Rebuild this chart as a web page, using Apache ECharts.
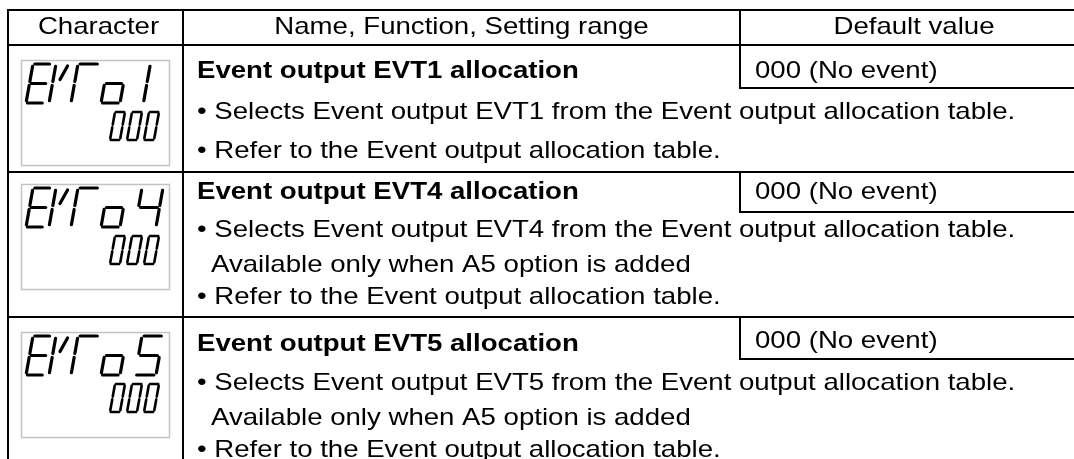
<!DOCTYPE html>
<html><head><meta charset="utf-8">
<script src="https://cdn.jsdelivr.net/npm/echarts@6/dist/echarts.min.js"></script>
<style>html,body{margin:0;padding:0;background:#fff}#chart{width:1074px;height:459px}</style>
</head><body><div id="chart"></div>
<script>
// ---- table content ----
const headers = ['Character', 'Name, Function, Setting range', 'Default value'];
const displayCodes = ['EVTo1', 'EVTo4', 'EVTo5'];
const displayValues = ['000', '000', '000'];
const names = ['Event output EVT1 allocation', 'Event output EVT4 allocation', 'Event output EVT5 allocation'];
const defaults = ['000 (No event)', '000 (No event)', '000 (No event)'];
const descriptions = [
  ['• Selects Event output EVT1 from the Event output allocation table.',
   '• Refer to the Event output allocation table.'],
  ['• Selects Event output EVT4 from the Event output allocation table.',
   'Available only when A5 option is added',
   '• Refer to the Event output allocation table.'],
  ['• Selects Event output EVT5 from the Event output allocation table.',
   'Available only when A5 option is added',
   '• Refer to the Event output allocation table.']
];

// ---- layout (positions / sizes / styles) ----
const L = {
  W: 1074, H: 459,
  left: 8, colChar: 183, colDef: 740, right: 1100,
  headTop: 10, headBottom: 45, headTextY: 27,
  rowTops: [45, 172, 317], rowBottoms: [172, 317, 480],
  defBottoms: [88, 212, 359],
  lineY: [[71, 112, 151], [192, 230, 265, 297], [344, 383, 418, 450]],
  defY: [71, 192, 341],
  textX: 197, indentX: 211, defX: 755,
  lcdX: 21, lcdW: 148, lcdH: 105, lcdTops: [60, 184, 332],
  fs: 24, sx: 1.15,
  font: '"Liberation Sans", Arial, Helvetica, sans-serif'
};

// 7-segment definitions in a unit cell (u: 0..1 left->right, v: 0..1 top->bottom)
const SEG = {
  a: [[0.1, 0], [0.92, 0]],
  b: [[1, 0.06], [1, 0.45]],
  c: [[1, 0.55], [1, 0.94]],
  d: [[0.08, 1], [0.9, 1]],
  e: [[0, 0.55], [0, 0.94]],
  f: [[0, 0.06], [0, 0.45]],
  g: [[0.1, 0.5], [0.9, 0.5]],
  vd: [[0.7, 0.05], [0.4, 0.4]],
  m1: [[0.4, 0.06], [0.4, 0.45]],
  m2: [[0.4, 0.55], [0.4, 0.94]]
};
const GLYPH = {
  E: ['a', 'd', 'e', 'f', 'g'],
  V: ['f', 'e', 'vd'],
  T: ['a', 'f', 'e'],
  o: ['c', 'd', 'e', 'g'],
  '1': ['m1', 'm2'],
  '4': ['b', 'c', 'f', 'g'],
  '5': ['a', 'f', 'g', 'c', 'd'],
  '0': ['a', 'b', 'c', 'd', 'e', 'f']
};
// character cells: [x offset, width] inside the LCD box
const BIG = { top: 4, h: 39, slant: 7, lw: 3.2, cells: [[5, 18], [28, 17], [50, 21], [80, 19], [114, 21]] };
const SMALL = { top: 52, h: 28, slant: 5, lw: 2.6, cells: [[89, 10], [106, 10], [123, 10]] };

const rowData = [[0, 0]].concat(names.map((n, k) => [k + 1, k + 1]));

function renderItem(params, api) {
  const idx = api.value(0);
  const P = (x, y) => api.coord([x, y]);
  const children = [];
  const line = (x1, y1, x2, y2, w, color) => {
    const a = P(x1, y1), b = P(x2, y2);
    children.push({ type: 'line', shape: { x1: a[0], y1: a[1], x2: b[0], y2: b[1] },
      style: { stroke: color || '#000', lineWidth: w || 2, lineCap: 'butt' } });
  };
  const text = (s, x, y, align, bold) => {
    const p = P(x, y);
    children.push({ type: 'text', x: p[0], y: p[1], scaleX: L.sx, scaleY: 1,
      style: { text: s, x: 0, y: 0, fill: '#000',
        font: (bold ? 'bold ' : '') + L.fs + 'px ' + L.font,
        align: align, verticalAlign: 'middle', textAlign: align, textVerticalAlign: 'middle' } });
  };
  const glyphs = (str, bx, by, spec) => {
    for (let k = 0; k < str.length && k < spec.cells.length; k++) {
      const segs = GLYPH[str[k]] || [];
      const cx = bx + spec.cells[k][0], cw = spec.cells[k][1];
      segs.forEach(sn => {
        const pts = SEG[sn].map(([u, v]) => P(cx + u * cw + (1 - v) * spec.slant, by + spec.top + v * spec.h));
        children.push({ type: 'line', shape: { x1: pts[0][0], y1: pts[0][1], x2: pts[1][0], y2: pts[1][1] },
          style: { stroke: '#000', lineWidth: spec.lw, lineCap: 'round' } });
      });
    }
  };

  if (idx === 0) {
    line(L.left - 1, L.headTop, L.right, L.headTop);
    line(L.left - 1, L.headBottom, L.right, L.headBottom);
    line(L.left, L.headTop - 1, L.left, L.headBottom);
    line(L.colChar, L.headTop, L.colChar, L.headBottom);
    line(L.colDef, L.headTop, L.colDef, L.headBottom);
    text(headers[0], (L.left + L.colChar) / 2 + 3, L.headTextY, 'center');
    text(headers[1], (L.colChar + L.colDef) / 2, L.headTextY, 'center');
    text(headers[2], 914, L.headTextY, 'center');
  } else {
    const r = idx - 1;
    const top = L.rowTops[r], bot = L.rowBottoms[r];
    line(L.left, top, L.left, bot);
    line(L.colChar, top, L.colChar, bot);
    line(L.left - 1, bot, L.right, bot);
    // default-value box
    line(L.colDef, top, L.colDef, L.defBottoms[r] + 1);
    line(L.colDef - 1, L.defBottoms[r], L.right, L.defBottoms[r]);
    // LCD display picture
    const lt = L.lcdTops[r];
    const a = P(L.lcdX, lt), b = P(L.lcdX + L.lcdW, lt + L.lcdH);
    children.push({ type: 'rect', shape: { x: a[0] + 0.5, y: a[1] + 0.5, width: b[0] - a[0], height: b[1] - a[1] },
      style: { fill: '#fff', stroke: '#c4c4c4', lineWidth: 1.5 } });
    glyphs(displayCodes[r], L.lcdX, lt, BIG);
    glyphs(displayValues[r], L.lcdX, lt, SMALL);
    // texts
    text(names[r], L.textX, L.lineY[r][0], 'left', true);
    text(defaults[r], L.defX, L.defY[r], 'left');
    descriptions[r].forEach((s, k) => {
      const isIndent = s.charAt(0) !== '•';
      text(s, isIndent ? L.indentX : L.textX, L.lineY[r][k + 1], 'left');
    });
  }
  return { type: 'group', children: children };
}

const chart = echarts.init(document.getElementById('chart'), null, { renderer: 'canvas' });
chart.setOption({
  animation: false,
  backgroundColor: '#fff',
  grid: { left: 0, right: 0, top: 0, bottom: 0 },
  xAxis: { type: 'value', min: 0, max: L.W, show: false },
  yAxis: { type: 'value', min: 0, max: L.H, inverse: true, show: false },
  series: [{ type: 'custom', renderItem: renderItem, data: rowData, clip: false, silent: true,
    encode: { x: 0, y: 1 } }]
});
</script>
</body></html>
